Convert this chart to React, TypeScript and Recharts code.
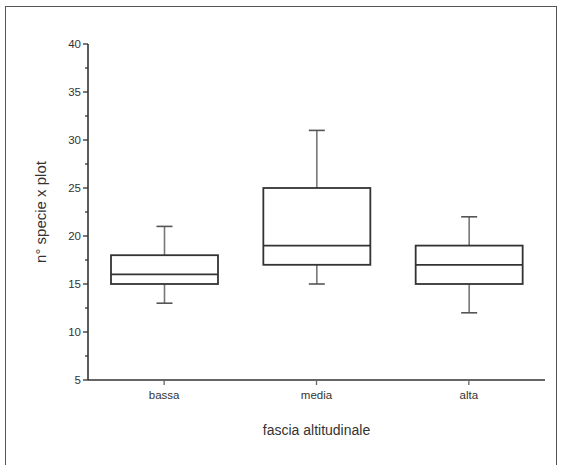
import React from "react";
import { ComposedChart, Bar, XAxis, YAxis } from "recharts";

const categories = ["bassa", "media", "alta"];
const whiskerLow = [13, 15, 12];
const quartile1 = [15, 17, 15];
const medians = [16, 19, 17];
const quartile3 = [18, 25, 19];
const whiskerHigh = [21, 31, 22];
const yTicks = [5, 7.5, 10, 12.5, 15, 17.5, 20, 22.5, 25, 27.5, 30, 32.5, 35, 37.5, 40];

const data = categories.map((c, i) => ({
  name: c,
  min: whiskerLow[i],
  q1: quartile1[i],
  med: medians[i],
  q3: quartile3[i],
  max: whiskerHigh[i],
}));

const FONT = "'Liberation Sans', Arial, sans-serif";

const BoxShape = (props: any) => {
  const { x, y, width, height, payload } = props;
  const { min, q1, med, q3, max } = payload;
  const k = height / (q3 - q1);
  const yOf = (v: number) => y + height - (v - q1) * k;
  const cx = x + width / 2;
  const cap = 8;
  return (
    <g>
      <line x1={cx} x2={cx} y1={yOf(max)} y2={yOf(q3)} stroke="#777" strokeWidth={1.6} />
      <line x1={cx} x2={cx} y1={yOf(q1)} y2={yOf(min)} stroke="#777" strokeWidth={1.6} />
      <line x1={cx - cap} x2={cx + cap} y1={yOf(max)} y2={yOf(max)} stroke="#555" strokeWidth={1.6} />
      <line x1={cx - cap} x2={cx + cap} y1={yOf(min)} y2={yOf(min)} stroke="#555" strokeWidth={1.6} />
      <rect x={x} y={y} width={width} height={height} fill="#fff" stroke="#333" strokeWidth={1.8} />
      <line x1={x} x2={x + width} y1={yOf(med)} y2={yOf(med)} stroke="#333" strokeWidth={1.8} />
    </g>
  );
};

const YTick = (props: any) => {
  const { x, y, payload } = props;
  const v = payload.value;
  const major = v % 5 === 0;
  return (
    <g>
      <line x1={x - (major ? 5 : 3)} x2={x} y1={y} y2={y} stroke="#333" strokeWidth={1.3} />
      {major && (
        <text x={x - 7} y={y} dy={4} textAnchor="end" fontSize={11.5} fill="#333" fontFamily={FONT}>
          {v}
        </text>
      )}
    </g>
  );
};

export default function App() {
  return (
    <div style={{ position: "absolute", left: 0, top: 0, width: 561, height: 465, background: "#fff" }}>
      <div
        style={{
          position: "absolute",
          left: 5,
          top: 6,
          width: 550,
          height: 458,
          border: "1px solid #555",
        }}
      />
      <div style={{ position: "absolute", left: 0, top: 0 }}>
        <ComposedChart
          width={561}
          height={465}
          data={data}
          margin={{ top: 44, right: 16, left: 0, bottom: 0 }}
        >
          <XAxis
            dataKey="name"
            height={85}
            tickSize={5}
            tickMargin={6}
            axisLine={{ stroke: "#333", strokeWidth: 1.6 }}
            tickLine={{ stroke: "#666", strokeWidth: 1.3 }}
            tick={{ fontSize: 11.5, fill: "#333", fontFamily: FONT }}
            label={{
              value: "fascia altitudinale",
              position: "insideBottom",
              offset: 30,
              fontSize: 14,
              fill: "#333",
              fontFamily: FONT,
            }}
          />
          <YAxis
            type="number"
            domain={[5, 40]}
            ticks={yTicks}
            interval={0}
            width={88}
            tickSize={0}
            tickMargin={0}
            axisLine={{ stroke: "#333", strokeWidth: 1.6 }}
            tick={<YTick />}
            label={{
              value: "n° specie x plot",
              angle: -90,
              position: "insideLeft",
              offset: 0,
              dx: 41,
              fontSize: 15,
              fill: "#333",
              fontFamily: FONT,
              style: { textAnchor: "middle" },
            }}
          />
          <Bar
            dataKey={(d: any) => [d.q1, d.q3]}
            barSize={107}
            shape={<BoxShape />}
            isAnimationActive={false}
          />
        </ComposedChart>
      </div>
    </div>
  );
}
